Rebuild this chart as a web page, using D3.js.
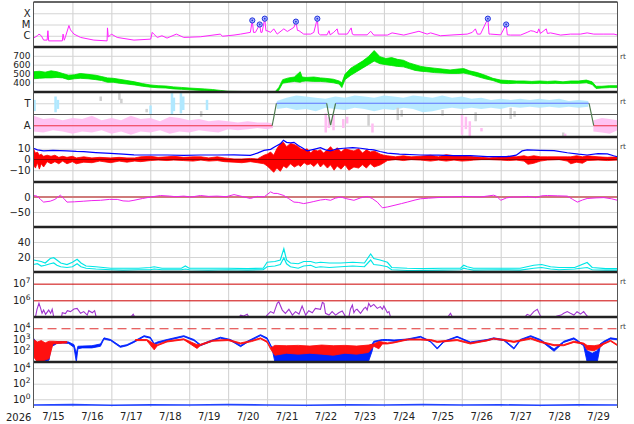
<!DOCTYPE html>
<html lang="en">
<head>
<meta charset="UTF-8">
<title>Space weather overview</title>
<script src="https://d3js.org/d3.v7.min.js"></script>
<style>
  body { margin: 0; background: #fff; }
  svg { display: block; font-family: "DejaVu Sans", sans-serif; }
</style>
</head>
<body>
<script>
// all times are days after 2026-07-15 00:00 UT
const dayLabels = ["7/15","7/16","7/17","7/18","7/19","7/20","7/21","7/22","7/23","7/24","7/25","7/26","7/27","7/28","7/29"];

// panel 1: x-ray flux [day, W/m2]
const xray = [[0,6.2e-7],[0.1,1.0e-6],[0.14,1.4e-6],[0.2,1.0e-6],[0.26,4.1e-7],[0.35,4.1e-7],[0.37,2.8e-6],[0.39,3.5e-7],[0.74,3.5e-7],[0.76,1.4e-6],[0.79,4e-7],[0.82,8e-7],[0.91,8.1e-6],[0.95,3.3e-6],[1.04,1.4e-6],[1.21,7.1e-7],[1.55,4.1e-7],[1.89,3.5e-7],[1.9,5.0e-6],[1.92,8e-7],[1.96,1.0e-6],[2.0,1.4e-6],[2.15,7.1e-7],[2.58,4.1e-7],[3.01,5.0e-7],[3.05,2.0e-6],[3.09,1.4e-6],[3.18,7.1e-7],[3.3,1.0e-6],[3.43,6.2e-7],[3.67,1.4e-6],[3.86,7.1e-7],[4.29,8.1e-7],[4.8,1.4e-6],[4.85,9e-7],[5.15,1.15e-6],[5.32,1.4e-6],[5.57,2.0e-6],[5.62,2.3e-5],[5.65,2.0e-6],[5.7,2.0e-6],[5.81,1.0e-5],[5.84,2.0e-6],[5.87,2.0e-6],[5.94,3.3e-5],[5.97,2.8e-6],[6.0,2.8e-6],[6.09,2.0e-6],[6.17,4.1e-6],[6.26,1.4e-6],[6.43,4.1e-6],[6.52,2.4e-6],[6.69,5.6e-6],[6.74,1.8e-5],[6.78,3e-6],[6.82,2.8e-6],[6.94,1.4e-6],[7.12,1.4e-6],[7.2,2.0e-6],[7.29,3.3e-5],[7.32,1.6e-6],[7.37,1.2e-6],[7.54,1.2e-6],[7.59,2.8e-6],[7.62,1.2e-6],[7.71,2.0e-6],[7.8,4.1e-6],[7.83,1.4e-6],[8.06,1.4e-6],[8.16,5.0e-6],[8.19,1.4e-6],[8.23,1.2e-6],[8.57,1.2e-6],[8.66,2.5e-6],[8.74,1.15e-6],[9.09,1.15e-6],[9.21,1.8e-6],[9.51,1.15e-6],[9.9,2.5e-6],[10.11,1.4e-6],[10.2,1.8e-6],[10.45,1.0e-6],[10.8,1.2e-6],[11.14,1.4e-6],[11.27,2.0e-6],[11.35,4.1e-6],[11.4,1.4e-6],[11.48,1.4e-6],[11.67,3.3e-5],[11.7,1.4e-6],[11.74,1.4e-6],[12.0,1.2e-6],[12.14,1.0e-5],[12.17,1.2e-6],[12.25,1.15e-6],[12.51,1.15e-6],[12.68,2.0e-6],[12.77,2.8e-6],[12.85,2.5e-6],[12.94,1.8e-6],[12.98,4.1e-6],[13.02,1.6e-6],[13.17,4.1e-6],[13.2,1.6e-6],[13.28,1.8e-6],[13.54,1.15e-6],[13.79,1.4e-6],[14.05,1.4e-6],[14.22,1.8e-6],[14.39,1.4e-6],[14.65,1.4e-6],[14.91,1.4e-6],[15,1.15e-6]];
const flareEvents = [[5.62,2.3e-5],[5.81,1.0e-5],[5.94,3.3e-5],[6.74,1.8e-5],[7.29,3.3e-5],[11.67,3.3e-5],[12.14,1.0e-5]];
const xrayTicks = [1e-4, 1e-5, 1e-6];
const xrayLabels = ["X", "M", "C"];

// panel 2: solar wind speed [day, low, high] km/s
const speed = [[0,440,520],[0.15,445,525],[0.3,450,515],[0.45,450,530],[0.6,455,520],[0.75,450,500],[0.9,430,480],[1.05,440,485],[1.2,445,500],[1.4,440,490],[1.6,430,480],[1.75,420,465],[1.9,400,450],[2.05,400,445],[2.2,390,435],[2.4,380,420],[2.6,370,405],[2.8,355,385],[3.0,345,370],[3.2,338,362],[3.4,335,358],[3.6,325,348],[3.8,320,342],[4.0,315,335],[4.2,310,330],[4.4,305,325],[4.6,298,318],[4.8,292,308],[5.0,280,298],[6.2,270,290],[6.3,310,340],[6.4,390,430],[6.55,400,450],[6.7,410,460],[6.85,400,520],[6.9,410,460],[7.0,415,455],[7.2,410,460],[7.37,410,450],[7.5,405,445],[7.7,395,435],[7.85,380,415],[7.92,340,395],[8.0,430,490],[8.15,480,560],[8.3,520,600],[8.45,560,640],[8.6,600,690],[8.75,640,760],[8.9,610,690],[9.05,600,670],[9.2,590,680],[9.35,580,660],[9.5,575,650],[9.65,555,620],[9.8,535,600],[9.95,525,580],[10.1,520,570],[10.3,510,560],[10.5,505,550],[10.7,500,540],[10.9,500,550],[11.05,505,555],[11.2,490,530],[11.4,465,510],[11.6,440,480],[11.8,420,445],[12.0,390,425],[12.2,385,420],[12.4,390,415],[12.6,388,415],[12.8,385,410],[13.0,388,415],[13.2,385,410],[13.4,388,415],[13.6,385,405],[13.8,388,415],[14.0,388,415],[14.2,395,425],[14.35,375,405],[14.45,330,355],[14.6,335,355],[14.8,340,362],[15,340,362]];
const speedTicks = [400, 500, 600, 700];

// panel 3: sector polarity, +1 toward, -1 away
const sectorLine = [[0,-1],[6.13,-1],[6.24,1],[7.53,1],[7.63,-0.95],[7.76,1],[14.27,1],[14.39,-1],[15,-1]];
const sectorAway = [[0,-1.5,-0.1],[0.25,-1.6,-0.4],[0.5,-1.4,-0.3],[0.75,-1.5,-0.5],[1.0,-1.7,-0.3],[1.25,-1.5,-0.4],[1.5,-1.6,-0.1],[1.75,-1.4,-0.5],[2.0,-1.7,-0.3],[2.25,-1.5,-0.5],[2.5,-1.8,-0.1],[2.75,-1.5,-0.4],[3.0,-1.6,-0.3],[3.25,-1.4,-0.6],[3.5,-1.7,-0.2],[3.75,-1.5,-0.3],[4.0,-1.6,-0.5],[4.25,-1.4,-0.4],[4.5,-1.5,-0.6],[4.75,-1.6,-0.5],[5.0,-1.3,-0.6],[5.25,-1.4,-0.7],[5.5,-1.3,-0.6],[5.75,-1.2,-0.7],[6.0,-1.3,-0.7],[6.15,-1.2,-0.8],[6.2,null,null],[14.38,-1.5,-0.5],[14.6,-1.6,-0.3],[14.8,-1.7,-0.4],[15,-1.4,-0.5]];
const sectorToward = [[6.25,0.5,1.2],[6.5,0.6,1.5],[6.75,0.4,1.7],[7.0,0.5,1.6],[7.25,0.3,1.5],[7.5,0.6,1.4],[7.75,0.5,1.6],[8.0,0.4,1.5],[8.25,0.6,1.7],[8.5,0.5,1.6],[8.75,0.3,1.5],[9.0,0.5,1.7],[9.25,0.4,1.6],[9.5,0.6,1.5],[9.75,0.5,1.7],[10.0,0.2,1.6],[10.25,0.3,1.5],[10.5,0.5,1.7],[10.75,0.6,1.5],[11.0,0.5,1.6],[11.25,0.6,1.4],[11.5,0.5,1.5],[11.75,0.6,1.3],[12.0,0.5,1.4],[12.25,0.7,1.3],[12.5,0.6,1.4],[12.75,0.7,1.3],[13.0,0.6,1.4],[13.25,0.7,1.3],[13.5,0.6,1.4],[13.75,0.7,1.2],[14.0,0.6,1.3],[14.25,0.7,1.2]];
const sectorSpecks = [[0.02,0.3,1.3,"t"],[0.56,0.2,1.6,"t"],[0.62,0.5,1.3,"t"],[3.0,0.0,0.8,"t"],[3.55,0.0,1.9,"t"],[3.6,0.3,1.5,"t"],[3.78,0.1,1.9,"t"],[3.84,0.4,1.6,"t"],[4.45,0.4,1.3,"t"],[1.72,1.2,1.6,"g"],[2.2,1.3,1.9,"g"],[2.25,1.0,1.4,"g"],[2.9,0.2,0.5,"g"],[4.3,-0.2,0.3,"g"],[7.5,-1.6,0.1,"a"],[7.58,-1.2,-0.2,"a"],[7.7,-1.4,0.0,"a"],[7.95,-1.2,-0.4,"a"],[8.05,-0.8,-0.2,"a"],[8.6,-1.0,0.0,"g"],[8.7,-1.6,-0.8,"a"],[9.35,-0.5,0.6,"g"],[9.45,-0.2,0.4,"g"],[10.5,-0.1,0.4,"g"],[11.0,-1.8,0.0,"a"],[11.1,-1.3,-0.2,"a"],[11.2,-2.0,-0.6,"a"],[11.35,-0.6,0.2,"g"],[11.5,-1.5,-1.2,"a"],[12.25,-0.4,0.6,"g"],[12.35,-0.2,0.3,"g"],[13.6,-2.0,-1.6,"g"],[13.65,-2.0,-1.7,"a"]];
const sectorTicks = [1, -1];
const sectorLabels = ["T", "A"];

// panel 4: IMF Bt and Bz, nT
const bt = [[0,10.5],[0.1,9],[0.26,8],[0.5,8.5],[0.86,8],[1.1,7.5],[1.29,7.3],[1.6,6.5],[1.98,5.8],[2.3,5],[2.58,4.3],[3.0,4.2],[3.43,4.2],[3.86,3.8],[4.29,4.2],[4.72,4.2],[5.15,4.3],[5.35,4],[5.57,3.8],[5.75,6],[5.92,8.5],[6.09,9.5],[6.2,12],[6.35,15],[6.42,18],[6.5,16],[6.6,15.5],[6.69,16],[6.8,13],[6.9,11],[7.03,8],[7.2,9.5],[7.37,11],[7.5,9],[7.63,8],[7.8,10],[7.97,10.5],[8.2,11],[8.4,10.5],[8.6,9.5],[8.74,9],[8.9,7.5],[9.09,6],[9.4,5],[9.94,4.2],[10.4,4],[10.8,3.6],[11.22,3.6],[11.65,2.6],[12.16,2.6],[12.4,4],[12.55,8],[12.68,8.9],[13.0,8.5],[13.37,8.2],[13.71,6.3],[14.0,5],[14.22,4.2],[14.5,5.5],[14.74,5.2],[14.9,3.5],[15,2.6]];
const bz = [[0,-5,10],[0.05,-8,6],[0.1,-3,7],[0.15,-9,4],[0.2,-4,5],[0.26,-7,3],[0.35,-2,4],[0.45,-4,3],[0.55,-2,4],[0.65,-4,2],[0.75,-1.5,3],[0.86,-4,2],[1.0,-2,3],[1.1,-4,1.5],[1.29,-2.5,2.5],[1.5,-3,1.5],[1.7,-1.5,2],[1.98,-3,1.5],[2.2,-1.5,2],[2.4,-2.5,1.5],[2.6,-1.5,1.5],[2.75,-2,2.5],[3.0,-1,3],[3.2,-0.5,2],[3.43,-1,2.5],[3.6,-0.5,3],[3.86,-1,2],[4.1,-1.5,2.5],[4.3,-0.5,2.5],[4.5,-1.5,1.5],[4.72,-1,2.5],[4.9,-2,1.5],[5.15,-2.5,0.5],[5.35,-3,0.5],[5.57,-2,1],[5.75,-3,0.5],[5.92,-4,4],[6.0,-6,5],[6.09,-9,7],[6.17,-12,4],[6.25,-8,10],[6.34,-11,15],[6.42,-6,16],[6.5,-8,12],[6.6,-4,15],[6.7,-7,14],[6.8,-5,12],[6.86,-6.5,10],[6.95,-3,9],[7.03,-5,10],[7.12,-4,6],[7.2,-6.5,9],[7.3,-3,8],[7.37,-7,9],[7.45,-4,6],[7.55,-8,9],[7.63,-5,12],[7.72,-10,8],[7.8,-6,11],[7.9,-9,7],[8.0,-5,10],[8.1,-10,9],[8.23,-7,8],[8.35,-8,10],[8.45,-5,6],[8.55,-8,9],[8.65,-4,7],[8.75,-7,8],[8.91,-5,5],[9.0,-3,4],[9.09,-1,3.5],[9.3,0,2.5],[9.5,-1,3.5],[9.7,0,2.5],[9.94,-0.5,3],[10.2,-1.5,4],[10.4,-0.5,2.5],[10.6,-1.5,4.5],[10.8,-0.5,3.5],[11.0,-1.5,3.5],[11.2,-1,3],[11.31,-0.5,2.5],[11.5,0,2],[11.7,0,1.5],[12.0,-0.5,2.5],[12.2,-1,3],[12.4,-0.5,2.5],[12.6,-1.5,3.5],[12.7,-4.5,2.5],[12.85,-3.5,3.5],[13.02,-1.5,2.5],[13.2,-0.5,2.5],[13.5,0,2.5],[13.71,-1.5,2.5],[13.8,-4,2.5],[13.95,-2.5,3.5],[14.1,-3.5,2.5],[14.22,-1,3.5],[14.5,-0.5,2.5],[14.74,-1,2],[15,-0.5,2.5]];
const bTicks = [10, 0, -10];

// panel 5: Dst, nT
const dst = [[0,5],[0.09,3],[0.18,-8],[0.26,-17],[0.43,-14],[0.55,-8],[0.69,6],[0.78,-5],[0.86,-17],[1.05,-16],[1.29,-14],[1.5,-12],[1.72,-11],[1.95,-8],[2.15,-8],[2.3,-13],[2.45,-14],[2.58,-11],[2.8,-5],[3.01,0],[3.26,5],[3.5,3],[3.65,1],[3.86,3],[4.05,0],[4.29,5],[4.5,2],[4.72,3],[4.95,1],[5.15,8],[5.35,2],[5.57,-5],[5.75,2],[5.92,0],[6.09,17],[6.17,12],[6.26,12],[6.43,5],[6.55,-5],[6.69,-17],[6.8,-18],[6.94,-22],[7.1,-18],[7.2,-15],[7.37,-10],[7.5,-8],[7.63,-11],[7.75,-4],[7.89,0],[8.05,-6],[8.23,-11],[8.4,-3],[8.57,2],[8.7,-5],[8.83,-17],[8.96,-36],[9.1,-33],[9.26,-28],[9.45,-22],[9.6,-17],[9.8,-10],[9.94,-6],[10.15,-4],[10.37,-2],[10.7,0],[11.05,2],[11.25,1],[11.48,0],[11.65,3],[11.82,6],[11.9,2],[12.0,-11],[12.15,-3],[12.3,0],[12.51,0],[12.7,2],[12.9,-2],[13.05,4],[13.2,5],[13.45,4],[13.71,3],[13.85,-8],[13.97,-17],[14.1,-10],[14.22,-5],[14.45,-3],[14.65,-2],[14.85,-6],[15,-11]];
const dstTicks = [0, -50];

// panel 6: proton density, /cc [day, low, high]
const density = [[0,10,16],[0.1,11,15],[0.2,8,14],[0.3,9,12],[0.43,11,18],[0.52,12,19],[0.6,9,16],[0.7,7,12],[0.86,6,10],[1.0,7,13],[1.12,11,17],[1.22,7,12],[1.35,5,8],[1.6,4,7],[1.98,3,5],[2.3,2.5,5],[2.7,3,5],[3.0,3,6],[3.1,4,7],[3.3,3,5],[3.8,3,5],[3.9,4,8],[4.0,3,5],[4.5,2.5,5],[5.0,3,5],[5.5,2.5,4.5],[5.9,3,5],[6.0,7,13],[6.2,8,14],[6.34,10,16],[6.43,19,31],[6.5,11,16],[6.6,7,12],[6.8,5,11],[6.94,8,14],[7.12,9,14],[7.25,6,12],[7.37,7,13],[7.6,6,12],[7.89,7,12],[8.2,8,13],[8.5,7,12],[8.66,16,24],[8.74,10,18],[8.9,9,16],[9.09,7,13],[9.2,3,6],[9.6,2,5],[10.0,2,4.5],[10.5,2.5,5],[10.97,3,5],[11.05,5,9],[11.14,4,7],[11.3,2.5,5],[12.0,3,5],[12.5,2.5,5],[12.85,5,9],[13.05,6,10],[13.28,4,7],[13.5,3,6],[13.9,4,6],[14.22,6,12.7],[14.35,3,6],[14.7,2.5,4.5],[15,2.5,4.5]];
const densityTicks = [20, 40];

// panel 7: electron fluence
const fluence = [[0,1.0e5],[0.05,1.0e5],[0.09,2.9e5],[0.14,6.6e5],[0.18,3.5e5],[0.22,1.66e5],[0.26,2.6e5],[0.31,1.45e5],[0.39,2.6e5],[0.44,1.66e5],[0.48,2.9e5],[0.52,1.0e5],[0.72,1.0e5],[0.74,1.8e5],[0.82,1.6e5],[0.87,2.4e5],[0.95,2.1e5],[1.04,3.0e5],[1.12,3.3e5],[1.21,1.66e5],[1.29,2.1e5],[1.38,1.3e5],[1.42,2.4e5],[1.51,1.8e5],[1.57,2.4e5],[1.61,1.0e5],[2.5,1.0e5],[2.56,1.45e5],[2.6,1.0e5],[5.28,1.0e5],[5.32,1.3e5],[5.4,1.15e5],[5.49,1.45e5],[5.53,1.0e5],[5.97,1.0e5],[6.0,1.3e5],[6.09,2.1e5],[6.17,1.66e5],[6.26,6.6e5],[6.3,8.3e5],[6.39,2.6e5],[6.47,1.66e5],[6.56,2.9e5],[6.65,1.3e5],[6.73,2.1e5],[6.82,1.5e5],[6.9,4.6e5],[6.99,1.3e5],[7.07,2.4e5],[7.16,1.8e5],[7.24,3.3e5],[7.37,2.9e5],[7.42,7.5e5],[7.46,6.6e5],[7.5,1.66e5],[7.59,1.3e5],[7.67,2.1e5],[7.76,1.3e5],[7.84,1.8e5],[7.93,2.3e5],[8.02,1.0e5],[8.1,1.0e5],[8.14,2.9e5],[8.19,5.2e5],[8.23,1.8e5],[8.27,2.6e5],[8.31,2.9e5],[8.4,1.66e5],[8.49,3.3e5],[8.53,3.8e5],[8.57,2.6e5],[8.61,6.6e5],[8.66,4.2e5],[8.74,5.7e5],[8.83,3.3e5],[8.91,4.2e5],[8.96,2.9e5],[9.0,4.6e5],[9.09,1.8e5],[9.13,2.1e5],[9.17,1.0e5],[10.64,1.0e5],[10.71,1.66e5],[10.76,1.0e5],[12.62,1.0e5],[12.68,1.45e5],[12.76,1.2e5],[12.85,2.1e5],[12.94,2.9e5],[13.02,1.15e5],[13.05,1.0e5],[13.38,1.0e5],[13.45,1.15e5],[13.55,1.3e5],[13.62,1.66e5],[13.71,2.1e5],[13.79,1.66e5],[13.88,1.3e5],[13.96,2.1e5],[14.05,1.5e5],[14.13,2.1e5],[14.22,1.15e5],[14.26,1.0e5],[15,1.0e5]];
const fluenceTicks = [1e6, 1e7];

// panel 8: two flux channels [day, low, high]
const fluxBlue = [[0,900,1300],[0.05,300,700],[0.1,10,250],[0.2,10,300],[0.3,10,250],[0.4,15,300],[0.45,250,350],[0.52,300,450],[0.6,450,650],[0.75,500,650],[0.9,450,600],[1.04,200,350],[1.1,10,60],[1.14,150,250],[1.25,180,260],[1.5,180,280],[1.72,250,400],[1.81,1100,1400],[1.98,800,1000],[2.23,200,260],[2.4,280,350],[2.58,550,700],[2.84,1800,2200],[3.0,1300,1600],[3.1,350,450],[3.18,450,600],[3.43,800,1000],[3.86,1800,2200],[4.12,800,1000],[4.29,280,350],[4.5,550,700],[4.8,1300,1600],[5.06,800,1000],[5.32,230,300],[5.49,550,700],[5.83,2200,2700],[6.0,1100,1400],[6.13,140,180],[6.2,10,100],[6.4,10,60],[6.6,10,80],[6.8,10,60],[7.0,10,80],[7.2,10,60],[7.4,10,150],[7.6,10,200],[7.8,10,120],[8.0,10,180],[8.2,10,150],[8.4,10,200],[8.6,10,250],[8.7,100,400],[8.74,550,700],[8.96,800,1000],[9.09,800,1000],[9.26,700,900],[9.6,900,1100],[9.94,1600,1900],[10.2,600,700],[10.37,140,180],[10.54,600,700],[10.88,1600,1900],[11.22,500,600],[11.65,800,1000],[11.82,1100,1400],[12.08,800,1000],[12.34,140,180],[12.5,800,1000],[12.77,1800,2200],[13.02,800,1000],[13.37,90,140],[13.62,550,700],[13.88,1100,1400],[14.13,280,350],[14.22,10,100],[14.35,10,60],[14.48,10,100],[14.55,200,400],[14.65,550,700],[14.82,1100,1400],[15,950,1150]];
const fluxRed = [[0,30,1000],[0.1,10,600],[0.2,10,800],[0.3,15,500],[0.4,20,700],[0.5,400,700],[0.65,450,650],[0.86,500,650],[0.87,null,null],[2.62,800,1000],[2.91,800,1000],[3.1,120,400],[3.18,280,350],[3.43,600,750],[3.86,950,1150],[4.2,160,350],[4.29,300,380],[4.6,700,850],[5.0,800,1000],[5.32,400,500],[5.6,650,800],[5.83,1150,1400],[6.0,550,700],[6.09,140,180],[6.2,40,300],[6.5,60,280],[6.8,50,300],[7.1,60,260],[7.4,50,320],[7.7,40,280],[8.0,60,300],[8.3,50,260],[8.6,70,320],[8.74,250,400],[8.87,150,650],[8.96,400,600],[9.09,400,500],[9.26,500,600],[9.6,900,1100],[9.94,900,1100],[10.2,800,1000],[10.37,550,700],[10.88,800,1000],[11.22,400,500],[11.65,750,900],[11.82,1100,1300],[12.08,800,1000],[12.34,550,700],[12.77,1100,1400],[13.02,550,700],[13.37,280,350],[13.62,280,350],[13.88,550,700],[14.13,380,480],[14.22,120,300],[14.4,100,280],[14.55,200,350],[14.65,380,480],[14.82,700,850],[15,280,350]];
const fluxTicks = [1e4, 1e3, 1e2];
const fluxAlert = 1e4;

// panel 9: proton flux
const protons = [[0,0.18],[1,0.2],[2,0.17],[3,0.19],[4,0.18],[5,0.2],[6,0.18],[7,0.17],[8,0.19],[9,0.18],[10,0.2],[11,0.18],[12,0.19],[13,0.17],[14,0.19],[15,0.18]];
const protonTicks = [1e4, 1e2, 1];

const rtPanels = [1, 2, 3, 6, 7];

const W = 634, H = 424;
const x0 = 33.5, x1 = 617.5, ph = 45;
const panelTop = i => 2 + ph * i;
const t0 = Date.UTC(2026, 6, 15);
const T = d => new Date(t0 + d * 864e5);
const x = d3.scaleUtc().domain([T(0), T(15)]).range([x0, x1]);
const pow = d => "10^" + Math.round(Math.log10(d));

const svg = d3.select("body").append("svg").attr("width", W).attr("height", H);

// day grid
svg.append("g").attr("transform", `translate(0,${panelTop(9)})`)
    .call(d3.axisBottom(x).tickValues(d3.range(1, 15).map(T)).tickSize(-(panelTop(9) - panelTop(0))).tickFormat(""))
    .call(g => g.select(".domain").remove())
    .call(g => g.selectAll("line").attr("stroke", "#cfcfcf"));

function panel(i, scale, ticks, fmt, gridColor, fontSize) {
    const y0 = panelTop(i);
    scale.range([y0 + ph, y0]);
    const axis = svg.append("g")
        .attr("transform", `translate(${x0},0)`)
        .call(d3.axisLeft(scale).tickValues(ticks).tickFormat(fmt)
            .tickSizeInner(-(x1 - x0)).tickSizeOuter(0).tickPadding(3))
        .attr("font-family", "DejaVu Sans, sans-serif").attr("font-size", fontSize || 10);
    axis.select(".domain").remove();
    axis.selectAll(".tick line").attr("stroke", gridColor || "#d4d4d4");
    axis.selectAll(".tick text").attr("fill", "#222").each(function () {
        const s = d3.select(this), txt = s.text();
        if (!txt.includes("^")) return;
        const [b, e] = txt.split("^");
        s.text(null);
        s.append("tspan").text(b);
        s.append("tspan").attr("dy", -4).attr("font-size", 7.5).text(e);
    });
    svg.append("clipPath").attr("id", "clip" + i)
        .append("rect").attr("x", x0).attr("y", y0).attr("width", x1 - x0).attr("height", ph);
    return { g: svg.append("g").attr("clip-path", `url(#clip${i})`), axis };
}

const line = s => d3.line().defined(d => d[1] != null).x(d => x(T(d[0]))).y(d => s(d[1]));
const band = s => d3.area().defined(d => d[1] != null).x(d => x(T(d[0]))).y0(d => s(d[1])).y1(d => s(d[2]));
const hline = (g, s, v, color, w) => g.append("line").attr("x1", x0).attr("x2", x1)
    .attr("y1", s(v)).attr("y2", s(v)).attr("stroke", color).attr("stroke-width", w);

// 1 x-ray
const yX = d3.scaleLog().domain([1e-7, 1e-3]).clamp(true);
const p1 = panel(0, yX, xrayTicks, (d, j) => xrayLabels[j]).g;
p1.append("path").datum(xray).attr("d", line(yX)).attr("fill", "none").attr("stroke", "#ff22ff").attr("stroke-width", 1);
p1.selectAll("circle").data(flareEvents).join("circle")
    .attr("cx", d => x(T(d[0]))).attr("cy", d => yX(d[1])).attr("r", 2.6)
    .attr("fill", "#aab4ff").attr("stroke", "#2233dd").attr("stroke-width", 1);
p1.selectAll(".dot").data(flareEvents).join("circle").attr("class", "dot")
    .attr("cx", d => x(T(d[0]))).attr("cy", d => yX(d[1])).attr("r", 0.9).attr("fill", "#2233dd");

// 2 speed
const yV = d3.scaleLinear().domain([290, 800]);
const p2 = panel(1, yV, speedTicks, d3.format("d"), null, 9).g;
p2.append("path").datum(speed).attr("d", band(yV)).attr("fill", "#00ee00").attr("stroke", "#00dd00").attr("stroke-width", 0.8);

// 3 sector
const yS = d3.scaleLinear().domain([-2, 2]);
const p3 = panel(2, yS, sectorTicks, (d, j) => sectorLabels[j]).g;
p3.append("path").datum(sectorAway).attr("d", band(yS)).attr("fill", "#ffbdf2").attr("opacity", 0.9);
p3.append("path").datum(sectorToward).attr("d", band(yS)).attr("fill", "#b0e8ff").attr("opacity", 0.9);
const speckColor = { t: "#b0e8ff", a: "#ffbdf2", g: "#d0d0d0" };
p3.selectAll("rect").data(sectorSpecks).join("rect")
    .attr("x", d => x(T(d[0])) - 1).attr("width", 2.5)
    .attr("y", d => yS(d[2])).attr("height", d => yS(d[1]) - yS(d[2]))
    .attr("fill", d => speckColor[d[3]]);
hline(p3, yS, 0, "#555", 1);
p3.selectAll(".seg").data(d3.pairs(sectorLine)).join("path").attr("class", "seg")
    .attr("d", d => line(yS)(d)).attr("fill", "none").attr("stroke-width", 1.2)
    .attr("stroke", ([a, b]) => a[1] !== b[1] ? "#4d7a4d" : a[1] > 0 ? "#5f74ff" : "#ee3344");

// 4 magnetic field
const yB = d3.scaleLinear().domain([-21, 21]);
const p4 = panel(3, yB, bTicks, d3.format("d")).g;
p4.append("path").datum(bz).attr("d", band(yB)).attr("fill", "#ff0000").attr("stroke", "#ff0000").attr("stroke-width", 0.8);
hline(p4, yB, 0, "#990000", 1);
p4.append("path").datum(bt).attr("d", line(yB)).attr("fill", "none").attr("stroke", "#0000ff").attr("stroke-width", 1.2);

// 5 Dst
const yD = d3.scaleLinear().domain([-100, 50]);
const p5 = panel(4, yD, dstTicks, d3.format("d")).g;
hline(p5, yD, 0, "#cf7a7a", 2.2);
p5.append("path").datum(dst).attr("d", line(yD)).attr("fill", "none").attr("stroke", "#ee22ee").attr("stroke-width", 1);

// 6 density
const yN = d3.scaleLinear().domain([0, 60]);
const p6 = panel(5, yN, densityTicks, d3.format("d")).g;
[1, 2].forEach(k => p6.append("path").datum(density.map(d => [d[0], d[k]]))
    .attr("d", line(yN)).attr("fill", "none").attr("stroke", "#00e6e6").attr("stroke-width", 1.2));

// 7 fluence
const yF = d3.scaleLog().domain([1e5, 5e7]).clamp(true);
const p7 = panel(6, yF, fluenceTicks, pow, "#cc0000").g;
p7.append("path").datum(fluence).attr("d", line(yF)).attr("fill", "none").attr("stroke", "#a033d0").attr("stroke-width", 1.1);

// 8 flux
const yP = d3.scaleLog().domain([10, 1e5]).clamp(true);
const p8 = panel(7, yP, fluxTicks, pow);
p8.axis.selectAll(".tick line").filter(d => d === fluxAlert)
    .attr("stroke", "#e03030").attr("stroke-width", 1.2).attr("stroke-dasharray", "9,5");
p8.g.append("path").datum(fluxBlue).attr("d", band(yP)).attr("fill", "#0022ff").attr("stroke", "#0022ff").attr("stroke-width", 0.9);
p8.g.append("path").datum(fluxRed).attr("d", band(yP)).attr("fill", "#ff1010").attr("stroke", "#ff1010").attr("stroke-width", 0.9);

// 9 protons
const yQ = d3.scaleLog().domain([0.1, 6.3e4]).clamp(true);
const p9 = panel(8, yQ, protonTicks, pow).g;
p9.append("path").datum(protons).attr("d", line(yQ)).attr("fill", "none").attr("stroke", "#2244ff").attr("stroke-width", 1.6);

// frame
d3.range(1, 9).forEach(i => svg.append("line").attr("x1", x0 - 0.5).attr("x2", x1 + 0.5)
    .attr("y1", panelTop(i)).attr("y2", panelTop(i)).attr("stroke", "#222").attr("stroke-width", 2.5));
svg.append("line").attr("x1", x0).attr("x2", x1).attr("y1", panelTop(0)).attr("y2", panelTop(0)).attr("stroke", "#333").attr("stroke-width", 1.5);
[x0, x1].forEach(v => svg.append("line").attr("x1", v).attr("x2", v)
    .attr("y1", panelTop(0)).attr("y2", panelTop(9) + 1).attr("stroke", "#555").attr("stroke-width", 1));

svg.selectAll(".rt").data(rtPanels).join("text").attr("class", "rt")
    .attr("x", 620).attr("y", i => panelTop(i) + 12.3).attr("font-size", 7.5).attr("fill", "#444").text("rt");

// time axis
svg.append("g").attr("transform", `translate(0,${panelTop(9)})`)
    .call(d3.axisBottom(x).tickValues(dayLabels.map((_, i) => T(i + 0.5))).tickFormat((d, i) => dayLabels[i]).tickSize(0).tickPadding(6))
    .attr("font-family", "DejaVu Sans, sans-serif").attr("font-size", 10)
    .call(g => g.select(".domain").remove())
    .call(g => g.selectAll("text").attr("fill", "#222"));
svg.append("text").attr("x", 6).attr("y", 421).attr("font-size", 10).attr("fill", "#222").text("2026");
</script>
</body>
</html>
